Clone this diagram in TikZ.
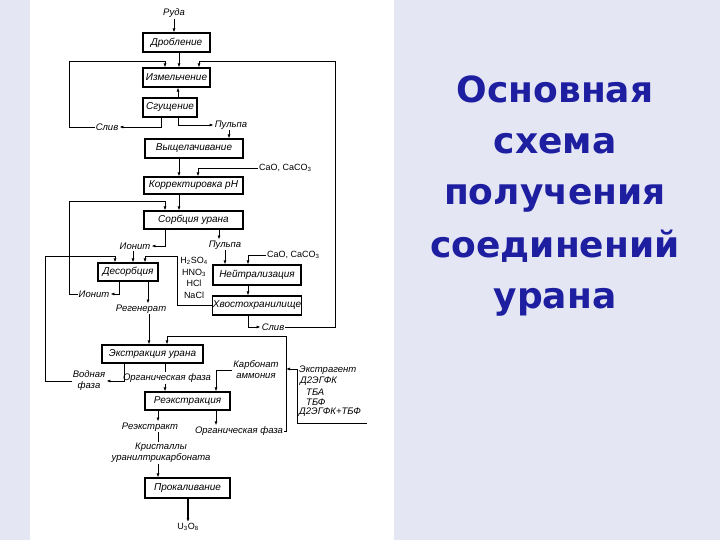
\documentclass[tikz,border=0pt]{standalone}
\usepackage{fontspec}
\usetikzlibrary{arrows.meta}
\newfontfamily\diagfont{Liberation Sans}
\newfontfamily\titlefont{DejaVu Sans}
\definecolor{bgcol}{RGB}{228,230,244}
\definecolor{titleblue}{RGB}{30,30,160}
\begin{document}
\begin{tikzpicture}[x=1pt,y=-1pt,
  box/.style={draw, line width=1.1pt, inner sep=0pt, font=\diagfont\itshape\fontsize{10}{12}\selectfont},
  lbl/.style={inner sep=1pt, font=\diagfont\itshape\fontsize{9.5}{11}\selectfont, align=center},
  chem/.style={inner sep=1pt, font=\diagfont\fontsize{9}{11.5}\selectfont, align=center},
  ln/.style={line width=0.8pt},
  arr/.style={ln, -{Latex[length=4pt,width=3pt]}},
  ttl/.style={font=\titlefont\bfseries\fontsize{36}{40}\selectfont, text=titleblue, inner sep=0pt, anchor=base},
]
\useasboundingbox (0,0) rectangle (720,540);
\fill[bgcol] (0,0) rectangle (720,540);
\fill[white] (30,0) rectangle (394,540);

% boxes
\node[box, minimum width=67pt, minimum height=19pt] (drob) at (176.5,42.5) {Дробление};
\node[box, minimum width=67pt, minimum height=19pt] (izm) at (176.5,77.5) {Измельчение};
\node[box, minimum width=54pt, minimum height=19pt] (sgu) at (170,107.5) {Сгущение};
\node[box, minimum width=98pt, minimum height=19pt] (vysh) at (194,148.5) {Выщелачивание};
\node[box, minimum width=99pt, minimum height=17pt] (korr) at (193.5,185.5) {Корректировка pH};
\node[box, minimum width=99pt, minimum height=18pt] (sorb) at (193.5,220) {Сорбция урана};
\node[box, minimum width=60pt, minimum height=18pt] (desorb) at (128,272) {Десорбция};
\node[box, minimum width=88pt, minimum height=20pt] (neut) at (257,275) {Нейтрализация};
\node[box, minimum width=88pt, minimum height=19pt] (hvost) at (257,305.5) {Хвостохранилище};
\node[box, minimum width=101pt, minimum height=18pt] (extr) at (152.5,354) {Экстракция урана};
\node[box, minimum width=85pt, minimum height=18pt] (reextr) at (187.5,401) {Реэкстракция};
\node[box, minimum width=85pt, minimum height=20pt] (prok) at (187.5,488) {Прокаливание};

% labels
\node[lbl] (ruda) at (174,13) {Руда};
\node[lbl] (sliv1) at (107,127) {Слив};
\node[lbl] (pulpa1) at (231,125) {Пульпа};
\node[chem, anchor=west] (cao1) at (258,168) {CaO, CaCO\textsubscript{3}};
\node[lbl] (ionit1) at (135,246) {Ионит};
\node[lbl] (pulpa2) at (225,245) {Пульпа};
\node[chem, anchor=west] (cao2) at (266,255) {CaO, CaCO\textsubscript{3}};
\node[chem] (acids) at (194,278) {H\textsubscript{2}SO\textsubscript{4}\\HNO\textsubscript{3}\\HCl\\NaCl};
\node[lbl] (ionit2) at (94,294) {Ионит};
\node[lbl] (regen) at (141,309) {Регенерат};
\node[lbl] (sliv2) at (273,327) {Слив};
\node[lbl] (vodn) at (89,381) {Водная\\фаза};
\node[lbl] (org1) at (167,378) {Органическая фаза};
\node[lbl] (karb) at (256,370) {Карбонат\\аммония};
\node[lbl] (reextrakt) at (150,427) {Реэкстракт};
\node[lbl] (org2) at (239,431) {Органическая фаза};
\node[lbl] (krist) at (161,453) {Кристаллы\\уранилтрикарбоната};
\node[chem] (u3o8) at (188,527) {U\textsubscript{3}O\textsubscript{8}};

% extragent list
\coordinate (brk) at (297,369);
\coordinate (rloop) at (286,336);
\node[lbl, anchor=west] (extrag) at (298,370) {Экстрагент};
\node[lbl, anchor=west] (e1) at (299,381) {Д2ЭГФК};
\node[lbl, anchor=west] (e2) at (305,392) {ТБА};
\node[lbl, anchor=west] (e3) at (305,402) {ТБФ};
\node[lbl, anchor=west] (e4) at (298,412) {Д2ЭГФК+ТБФ};

% connectors
\draw[arr] (ruda.south) -- (ruda.south |- drob.north);
\draw[arr] (drob.south -| 179,0) -- (izm.north -| 179,0);
\draw[arr] (sliv1.west) -| (69,61) -| (izm.north -| 165,0);
\draw[arr] (sliv2.east) -| (335,61) -| (izm.north -| 199,0);
\draw[arr] (sgu.north -| 178,0) -- (izm.south -| 178,0);
\draw[arr] (sgu.south -| 161,0) |- (sliv1.east);
\draw[arr] (sgu.south -| 178,0) |- (pulpa1.west);
\draw[arr] (pulpa1.south -| 229,0) -- (vysh.north -| 229,0);
\draw[arr] (vysh.south -| 179,0) -- (korr.north -| 179,0);
\draw[arr] (cao1.west) -| (korr.north -| 198,0);
\draw[arr] (korr.south -| 179,0) -- (sorb.north -| 179,0);
\draw[arr] (ionit2.west) -| (69,201) -| (sorb.north -| 165,0);
\draw[arr] (sorb.south -| 165,0) |- (ionit1.east);
\draw[arr] (ionit1.south -| 133,0) -- (desorb.north -| 133,0);
\draw[arr] (vodn.west) -| (45,256) -| (desorb.north -| 115,0);
\draw[arr] (hvost.west) -| (177,256) -| (desorb.north -| 145,0);
\draw[arr] (desorb.south -| 119,0) |- (ionit2.east);
\draw[arr] (desorb.south -| 148,0) -- (regen.north -| 148,0);
\draw[arr] (regen.south -| 149,0) -- (extr.north -| 149,0);
\draw[arr] (sorb.south -| 219,0) -- (pulpa2.north -| 219,0);
\draw[arr] (pulpa2.south -| 225,0) -- (neut.north -| 225,0);
\draw[arr] (cao2.west) -| (neut.north -| 248,0);
\draw[arr] (neut.south -| 248,0) -- (hvost.north -| 248,0);
\draw[arr] (hvost.south -| 248,0) |- (sliv2.west);
\draw[arr] (extr.south -| 124,0) |- (vodn.east);
\draw[ln] (extr.south -| 165,0) -- (org1.north -| 165,0);
\draw[arr] (org1.south -| 165,0) -- (reextr.north -| 165,0);
\draw[arr] (org2.east) -| (rloop) -| (extr.north -| 167,0);
\draw[arr] (brk) -- (brk -| rloop);
\draw[ln] (brk) |- (367,423);
\draw[arr] (karb.west) -| (reextr.north -| 216,0);
\draw[arr] (reextr.south -| 158,0) -- (reextrakt.north -| 158,0);
\draw[arr] (reextr.south -| 216,0) -- (org2.north -| 216,0);
\draw[ln] (reextrakt.south -| 158,0) -- (krist.north -| 158,0);
\draw[arr] (krist.south -| 158,0) -- (prok.north -| 158,0);
\draw[arr, line width=1.1pt] (prok.south -| 188,0) -- (u3o8.north -| 188,0);

% title
\node[ttl] (t1) at (555,103) {Основная};
\node[ttl] (t2) at (555,154) {схема};
\node[ttl] (t3) at (555,205) {получения};
\node[ttl] (t4) at (555,257) {соединений};
\node[ttl] (t5) at (555,308) {урана};
\end{tikzpicture}
\end{document}
